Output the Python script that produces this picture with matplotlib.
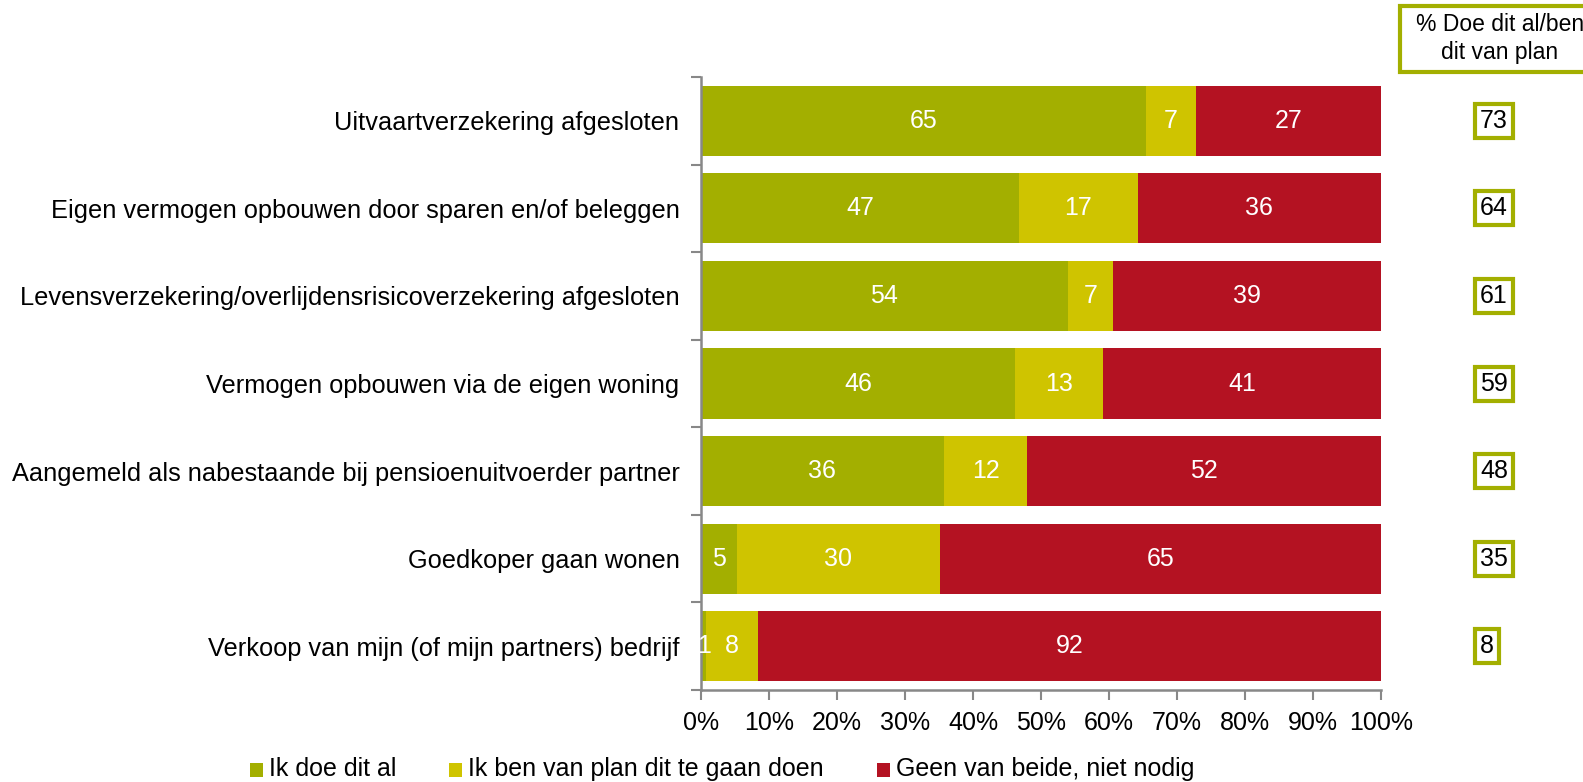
import matplotlib
matplotlib.use("Agg")
import matplotlib.pyplot as plt
from matplotlib.patches import Rectangle
from matplotlib.transforms import blended_transform_factory
import numpy as np

plt.rcParams['font.family'] = ['Liberation Sans', 'DejaVu Sans']

categories = [
    "Uitvaartverzekering afgesloten",
    "Eigen vermogen opbouwen door sparen en/of beleggen",
    "Levensverzekering/overlijdensrisicoverzekering afgesloten",
    "Vermogen opbouwen via de eigen woning",
    "Aangemeld als nabestaande bij pensioenuitvoerder partner",
    "Goedkoper gaan wonen",
    "Verkoop van mijn (of mijn partners) bedrijf",
]
doe_al = [65.4, 46.8, 53.9, 46.2, 35.7, 5.3, 0.8]
van_plan = [7.4, 17.4, 6.7, 12.9, 12.3, 29.8, 7.6]
geen = [27.2, 35.8, 39.4, 40.9, 52.0, 64.9, 91.6]
doe_al_lbl = [65, 47, 54, 46, 36, 5, 1]
van_plan_lbl = [7, 17, 7, 13, 12, 30, 8]
geen_lbl = [27, 36, 39, 41, 52, 65, 92]
totaal_lbl = [73, 64, 61, 59, 48, 35, 8]
series_names = ["Ik doe dit al", "Ik ben van plan dit te gaan doen", "Geen van beide, niet nodig"]
colors = ["#A3AF00", "#CFC400", "#B41222"]
xticks = list(range(0, 101, 10))
header = "% Doe dit al/ben\ndit van plan"

FS = 18
W, H = 1583, 782
fig = plt.figure(figsize=(W / 100, H / 100), dpi=100)
ax = fig.add_axes([701 / W, 1 - 690 / H, 680 / W, (690 - 77) / H])

y = np.arange(len(categories))
left = np.zeros(len(categories))
for vals, lbls, col in zip([doe_al, van_plan, geen], [doe_al_lbl, van_plan_lbl, geen_lbl], colors):
    vals = np.array(vals)
    ax.barh(y, vals, left=left, height=0.8, color=col, edgecolor='none')
    for yi, l, v, lb in zip(y, left, vals, lbls):
        ax.text(l + v / 2, yi, str(lb), ha='center', va='center', color='white', fontsize=FS)
    left = left + vals

ax.set_xlim(0, 100)
ax.set_ylim(len(categories) - 0.5, -0.5)
ax.set_xticks(xticks)
ax.set_xticklabels([f"{t}%" for t in xticks], fontsize=FS)
ax.set_yticks(y)
ax.set_yticklabels(categories, fontsize=18.3)
ax.set_yticks(np.arange(-0.5, len(categories), 1), minor=True)
ax.tick_params(axis='y', which='major', length=0, pad=15.5)
ax.tick_params(axis='y', which='minor', length=7, width=1.5, color='#888888')
ax.tick_params(axis='x', which='major', length=7, width=1.5, color='#888888', pad=8)
for s in ['top', 'right']:
    ax.spines[s].set_visible(False)
for s in ['left', 'bottom']:
    ax.spines[s].set_color('#888888')
    ax.spines[s].set_linewidth(1.8)

# right-side total boxes (left aligned)
tr = blended_transform_factory(fig.transFigure, ax.transData)
for yi, t in zip(y, totaal_lbl):
    ax.text(1480 / W, yi, str(t), transform=tr, ha='left', va='center', fontsize=FS,
            clip_on=False,
            bbox=dict(boxstyle='square,pad=0.2', facecolor='white', edgecolor=colors[0], linewidth=3))

# header box
fig.patches.append(Rectangle((1400 / W, 1 - 72 / H), 200 / W, 66 / H, transform=fig.transFigure,
                             facecolor='white', edgecolor=colors[0], linewidth=3))
fig.text(1500 / W, 1 - 38.5 / H, header, ha='center', va='center', fontsize=16.5, linespacing=1.27)

# legend
leg_x = [250, 449, 877]
for lx, name, col in zip(leg_x, series_names, colors):
    fig.patches.append(Rectangle((lx / W, 1 - 777 / H), 13 / W, 14 / H, transform=fig.transFigure,
                                 facecolor=col, edgecolor='none'))
    fig.text((lx + 19) / W, 1 - 769 / H, name, ha='left', va='center', fontsize=FS)

fig.savefig("out.png", dpi=100)
